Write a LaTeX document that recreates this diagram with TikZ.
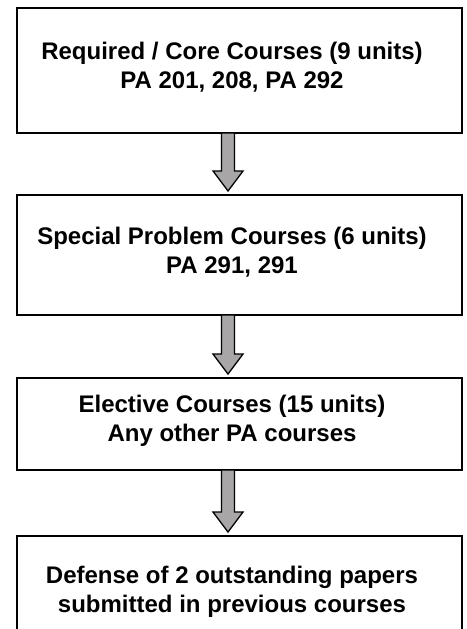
\documentclass[tikz,border=0pt]{standalone}
\usepackage{fontspec}
\setmainfont{Liberation Sans}
\usetikzlibrary{positioning,calc}
\definecolor{arrowgray}{RGB}{168,166,166}
\tikzset{
  stagebox/.style={draw=black, line width=2pt, minimum width=445pt, inner sep=0pt},
  stagetext/.style={align=center, font=\fontsize{24}{29}\selectfont\bfseries, inner sep=0pt},
  blockarrow/.style={draw=black, fill=arrowgray, line width=1.3pt, line join=miter}
}
% fat grey arrow from the bottom of one box down to the top of the next
\newcommand{\flowarrow}[2]{%
  \draw[blockarrow] let \p1=([xshift=-11.5pt,yshift=1pt]#1.south), \p2=([xshift=-11.5pt,yshift=3pt]#2.north) in
    (\x1-6.5pt,\y1) -- (\x1-6.5pt,\y2+20pt) -- (\x1-15pt,\y2+20pt) -- (\x1,\y2)
    -- (\x1+15pt,\y2+20pt) -- (\x1+6.5pt,\y2+20pt) -- (\x1+6.5pt,\y1) -- cycle;}
\begin{document}
\begin{tikzpicture}[x=1pt, y=1pt]
	\useasboundingbox (0,0) rectangle (466,-629);
	\clip (0,0) rectangle (466,-629);
	% boxes
	\node[stagebox, minimum height=125pt] (core) at (239.5,-70.5) {};
	\node[stagebox, minimum height=120pt, below=60pt of core] (special) {};
	\node[stagebox, minimum height=92pt, below=61pt of special] (elective) {};
	\node[stagebox, minimum height=117pt, below=64pt of elective] (defense) {};
	% texts
	\node[stagetext] (coretxt) at ([xshift=-7.5pt,yshift=3pt]core.center) {Required / Core Courses (9 units)\\PA 201, 208, PA 292};
	\node[stagetext] (specialtxt) at ([xshift=-7.5pt,yshift=3pt]special.center) {Special Problem Courses (6 units)\\PA 291, 291};
	\node[stagetext] (electivetxt) at ([xshift=-7.5pt,yshift=3pt]elective.center) {Elective Courses (15 units)\\Any other PA courses};
	\node[stagetext] (defensetxt) at ([xshift=-7.5pt,yshift=3pt]defense.center) {Defense of 2 outstanding papers\\submitted in previous courses};
	% arrows
	\flowarrow{core}{special}
	\flowarrow{special}{elective}
	\flowarrow{elective}{defense}
\end{tikzpicture}
\end{document}
